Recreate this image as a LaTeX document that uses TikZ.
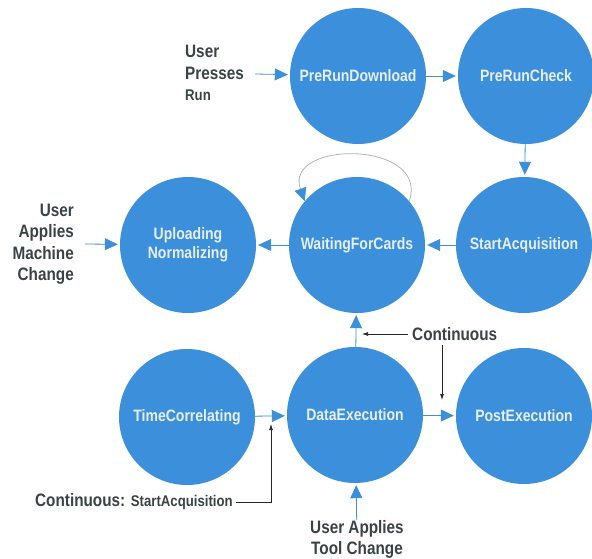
\documentclass[tikz,border=0pt]{standalone}
\usepackage{fontspec}
\setmainfont{Liberation Sans}[FakeStretch=0.85]
\usetikzlibrary{arrows.meta}
\definecolor{circ}{HTML}{3C8FDA}
\definecolor{ctext}{HTML}{E6EFF8}
\definecolor{lab}{HTML}{3A4246}
\tikzset{
  state/.style={circle, fill=circ, minimum size=136pt, inner sep=0pt, text=ctext, font=\bfseries\fontsize{16.5}{19}\selectfont, align=center},
  flow/.style={draw=circ, line width=0.8pt, -{Triangle[length=13pt,width=12pt]}, shorten >=2pt},
  note/.style={draw=black!85, line width=0.7pt, -{Latex[length=6pt,width=4pt]}},
  lbl/.style={text=lab, font=\bfseries\fontsize{18}{21.5}\selectfont, inner sep=0pt},
  loopline/.style={draw=black!30, line width=0.8pt, -{Triangle[length=13pt,width=12pt,color=circ]}}
}
\newcommand{\smalltxt}{\fontsize{15.5}{18}\selectfont}
\begin{document}
\begin{tikzpicture}[x=1pt,y=-1pt]
\useasboundingbox (0,0) rectangle (592,559);
\node[state] (prd) at (358,76) {PreRunDownload};
\node[state] (prc) at (526,76) {PreRunCheck};
\node[state] (up) at (188,245) {Uploading\\Normalizing};
\node[state] (wfc) at (357,245) {WaitingForCards};
\node[state] (sa) at (524,245) {StartAcquisition};
\node[state] (tc) at (187,417) {TimeCorrelating};
\node[state] (de) at (355,415) {DataExecution};
\node[state] (pe) at (524,416) {PostExecution};

\node[lbl, align=left, anchor=west] (upr) at (185,73) {User\\Presses\\{\smalltxt Run}};
\node[lbl, align=right, anchor=east] (uam) at (74,244) {User\\Applies\\Machine\\Change};
\node[lbl, align=center, anchor=north] (uat) at (357,520) {User Applies\\Tool Change};
\node[lbl, anchor=west] (cont) at (412,334) {Continuous};
\node[lbl, anchor=west] (csa) at (35,502) {Continuous: {\smalltxt StartAcquisition}};

\coordinate (a1) at (255,74);
\coordinate (a2) at (85,244);
\draw[flow] (a1) -- (prd);
\draw[flow] (prd) -- (prc);
\draw[flow] (prc) -- (sa);
\draw[flow] (sa) -- (wfc);
\draw[flow] (wfc) -- (up);
\draw[flow] (a2) -- (up);
\draw[flow] (tc) -- (de);
\draw[flow] (de) -- (pe);
\draw[flow] (de) -- (wfc);
\draw[flow] (uat) -- (de);
\draw[loopline] (wfc.40) .. controls (430,140) and (283,140) .. (wfc.140);

\coordinate (c1) at (362,334);
\coordinate (c2a) at (442,345);
\coordinate (c2b) at (442,400);
\draw[note] (cont.west) ++(-4,0) -- (c1);
\draw[note] (c2a) -- (c2b);
\coordinate (c3a) at (271,502);
\coordinate (c3b) at (271,424);
\draw[note] (csa.east) ++(3,0) -- (c3a) -- (c3b);
\end{tikzpicture}
\end{document}
